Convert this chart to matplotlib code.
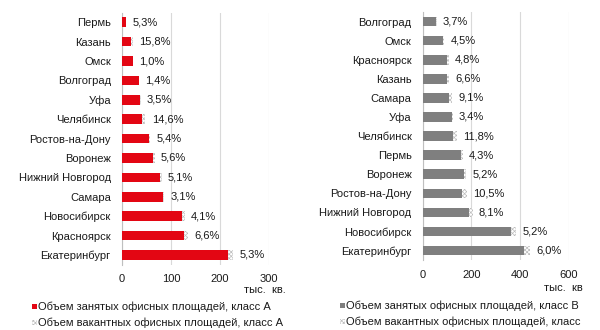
import numpy as np
import matplotlib.pyplot as plt
from matplotlib.patches import Rectangle

plt.rcParams['font.family'] = ['Liberation Sans', 'DejaVu Sans']
plt.rcParams['hatch.linewidth'] = 0.5

# Класс А: общий объем (тыс. кв. м) и доля вакантных площадей, %
cities_a = ['Пермь', 'Казань', 'Омск', 'Волгоград', 'Уфа', 'Челябинск',
            'Ростов-на-Дону', 'Воронеж', 'Нижний Новгород', 'Самара',
            'Новосибирск', 'Красноярск', 'Екатеринбург']
total_a = [8, 22, 23, 35, 38, 48, 58, 67, 81, 86, 128, 136, 228]
vacancy_a = [5.3, 15.8, 1.0, 1.4, 3.5, 14.6, 5.4, 5.6, 5.1, 3.1, 4.1, 6.6, 5.3]

# Класс В
cities_b = ['Волгоград', 'Омск', 'Красноярск', 'Казань', 'Самара', 'Уфа',
            'Челябинск', 'Пермь', 'Воронеж', 'Ростов-на-Дону',
            'Нижний Новгород', 'Новосибирск', 'Екатеринбург']
total_b = [58, 89, 107, 108, 120, 123, 141, 165, 179, 181, 205, 385, 443]
vacancy_b = [3.7, 4.5, 4.8, 6.6, 9.1, 3.4, 11.8, 4.3, 5.2, 10.5, 8.1, 5.2, 6.0]

ticks_a = [0, 100, 200, 300]
ticks_b = [0, 200, 400, 600]

legend_a = ['Объем занятых офисных площадей, класс А',
            'Объем вакантных офисных площадей, класс А']
legend_b = ['Объем занятых офисных площадей, класс В',
            'Объем вакантных офисных площадей, класс']

TXT = '#1a1a1a'
GRID = '#d9d9d9'
HATCH = '#bdbdbd'
FS = 8


def draw(ax, cities, total, vacancy, ticks, color, unit):
    total = np.array(total, dtype=float)
    vac = total * np.array(vacancy) / 100
    occ = total - vac
    y = np.arange(len(cities))
    ax.barh(y, occ, height=0.5, color=color, zorder=3)
    ax.barh(y, vac, left=occ, height=0.5, color='white', edgecolor=HATCH,
            hatch='xxxxxxxx', linewidth=0, zorder=3)
    for yi, t, v in zip(y, total, vacancy):
        ax.annotate(('%.1f%%' % v).replace('.', ','), (t, yi),
                    xytext=(4.5, 0), textcoords='offset points',
                    ha='left', va='center', fontsize=FS, color=TXT, zorder=4)
    ax.set_ylim(len(cities) - 0.5, -0.5)
    ax.set_yticks(y)
    ax.set_yticklabels(cities, fontsize=FS, color=TXT)
    ax.set_xlim(ticks[0], ticks[-1])
    ax.set_xticks(ticks)
    ax.set_xticklabels([str(t) for t in ticks], fontsize=FS, color=TXT)
    ax.tick_params(length=0, pad=7)
    ax.tick_params(axis='y', pad=8)
    ax.grid(axis='x', color=GRID, linewidth=0.8, zorder=0)
    for s in ['top', 'right', 'bottom']:
        ax.spines[s].set_visible(False)
    ax.spines['left'].set_color('#bfbfbf')
    ax.spines['left'].set_linewidth(0.8)
    return ax


fig = plt.figure(figsize=(6, 3.3), dpi=100)
ax1 = fig.add_axes([0.2033, 0.198, 0.2445, 0.764])
ax2 = fig.add_axes([0.7045, 0.212, 0.2433, 0.7515])

draw(ax1, cities_a, total_a, vacancy_a, ticks_a, '#e30613', 'тыс. кв.')
draw(ax2, cities_b, total_b, vacancy_b, ticks_b, '#7f7f7f', 'тыс. кв')

# подписи единиц измерения
fig.text(286 / 600, 1 - 290 / 330, 'тыс.  кв.', fontsize=FS, color=TXT,
         ha='right', va='center')
fig.text(583 / 600, 1 - 288 / 330, 'тыс.  кв', fontsize=FS, color=TXT,
         ha='right', va='center')


# легенды под графиками
def legend(x, y0, labels, color):
    for i, lab in enumerate(labels):
        yy = y0 - i * 16 / 330
        if i == 0:
            fig.patches.append(Rectangle((x, yy - 2.5 / 330), 5 / 600, 5 / 330,
                                         transform=fig.transFigure,
                                         facecolor=color, linewidth=0))
        else:
            fig.patches.append(Rectangle((x, yy - 2.5 / 330), 5 / 600, 5 / 330,
                                         transform=fig.transFigure,
                                         facecolor='white', edgecolor=HATCH,
                                         hatch='xxxxxxxx', linewidth=0))
        fig.text(x + 7 / 600, yy, lab, fontsize=FS, color=TXT,
                 ha='left', va='center')


legend(31.5 / 600, 1 - 306.5 / 330, legend_a, '#e30613')
legend(339.5 / 600, 1 - 305.5 / 330, legend_b, '#7f7f7f')

fig.savefig('out.png', dpi=100)
